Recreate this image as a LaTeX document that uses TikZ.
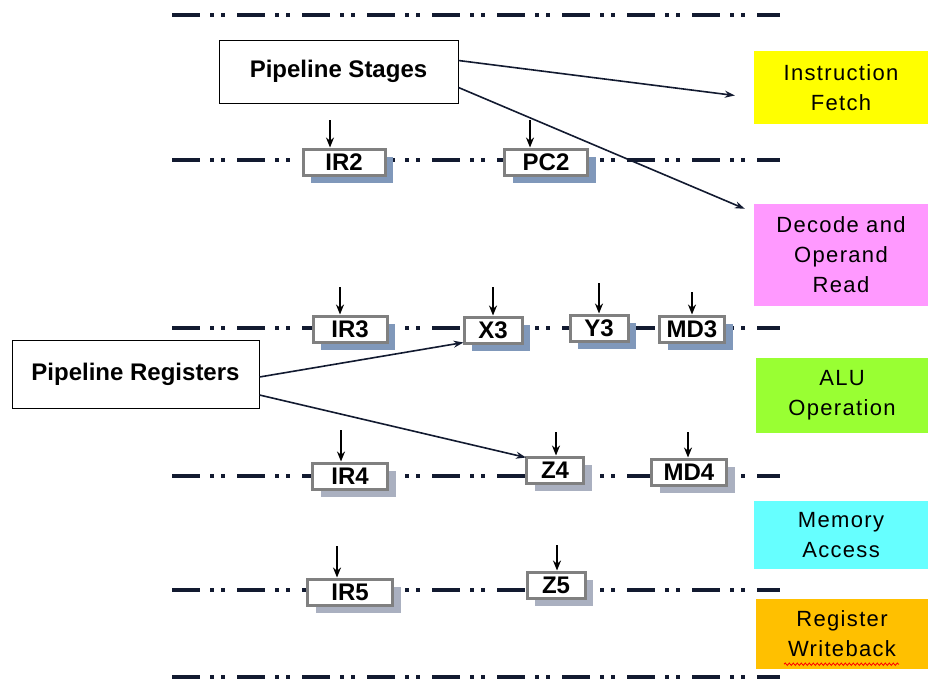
\documentclass[tikz,border=0pt]{standalone}
\usepackage{fontspec}
\setmainfont{Liberation Sans}
\newfontfamily\stagefont[LetterSpace=6]{Liberation Sans}
\usetikzlibrary{arrows.meta,shadows,decorations.pathmorphing}
\definecolor{ifetch}{RGB}{255,255,0}
\definecolor{decode}{RGB}{255,153,255}
\definecolor{aluop}{RGB}{153,255,51}
\definecolor{memacc}{RGB}{102,255,255}
\definecolor{regwb}{RGB}{255,192,0}
\definecolor{latchline}{RGB}{18,26,48}
\definecolor{regedge}{RGB}{128,128,128}
\definecolor{shadowblue}{RGB}{128,152,186}
\definecolor{shadowgray}{RGB}{170,176,192}

\begin{document}
\begin{tikzpicture}[x=1pt, y=-1pt,
        latch/.style={draw=latchline, line width=3.5pt,
                      dash pattern=on 28pt off 10pt on 4pt off 7pt on 4pt off 12pt},
        reg/.style={rectangle, draw=regedge, line width=3pt, fill=white, minimum height=26pt,
                    inner sep=0pt, font=\fontsize{24}{24}\selectfont\bfseries,
                    drop shadow={shadow xshift=8pt, shadow yshift=-8pt, fill=#1, opacity=1}},
        reg/.default=shadowblue,
        stage/.style={rectangle, minimum width=174pt, align=center,
                      font=\stagefont\fontsize{22}{30}\selectfont},
        title/.style={rectangle, draw, line width=1pt, fill=white,
                      font=\fontsize{24}{24}\selectfont\bfseries},
        inarrow/.style={line width=2.4pt, -{Stealth[length=10pt,width=8pt]}},
        pointer/.style={draw=latchline, line width=1.6pt, -{Stealth[length=10pt,width=7pt]}}
    ]
        \clip (0,0) rectangle (928,678);

        % latch lines between the stages
        \foreach \y in {15,160,328,476,590,677}
            \draw[latch] (172,\y) -- (780,\y);

        % stages
        \node[stage, fill=ifetch, minimum height=73pt]  (ifetch) at (841,87.5) {Instruction\\Fetch};
        \node[stage, fill=decode, minimum height=102pt] (decode) at (841,255)  {Decode and\\Operand\\Read};
        \node[stage, fill=aluop,  minimum height=75pt, minimum width=172pt] (aluop) at (842,395.5) {ALU\\Operation};
        \node[stage, fill=memacc, minimum height=68pt]  (memacc) at (841,535)  {Memory\\Access};
        \node[stage, fill=regwb,  minimum height=70pt, minimum width=172pt] (regwb) at (842,634) {Register\\Writeback};
        \draw[red, line width=0.8pt, decorate, decoration={snake, amplitude=1.2pt, segment length=4pt}]
            ([xshift=-58pt,yshift=5pt]regwb.south) -- ([xshift=57pt,yshift=5pt]regwb.south);

        % pipeline registers
        \node[reg, minimum width=82pt] (ir2) at (344,162) {IR2};
        \node[reg, minimum width=83pt] (pc2) at (546,162) {PC2};
        \node[reg, minimum width=74pt] (ir3) at (350,329) {IR3};
        \node[reg, minimum width=58pt] (x3)  at (493,330) {X3};
        \node[reg, minimum width=58pt] (y3)  at (599,328) {Y3};
        \node[reg, minimum width=65pt] (md3) at (692,329) {MD3};
        \node[reg=shadowgray, minimum width=75pt] (ir4) at (350,476) {IR4};
        \node[reg=shadowgray, minimum width=57pt] (z4)  at (555,470) {Z4};
        \node[reg=shadowgray, minimum width=75pt] (md4) at (689,472) {MD4};
        \node[reg=shadowgray, minimum width=85pt] (ir5) at (350,592) {IR5};
        \node[reg=shadowgray, minimum width=58pt] (z5)  at (556,585) {Z5};

        \foreach \r/\x/\y in {ir2/330/120, pc2/530/120, ir3/340/287, x3/493/287, y3/599/283,
                              md3/692/292, ir4/341/430, z4/556/432, md4/688/432, ir5/337/546, z5/557/545} {
            \coordinate (\r-in) at (\x,\y);
            \draw[inarrow] (\r-in) -- (\r-in |- \r.north);
        }

        % labels
        \node[title, minimum width=239pt, minimum height=63pt] (stages) at (338.5,71.5) {Pipeline Stages};
        \node[title, minimum width=247pt, minimum height=68pt] (pregs)  at (135.5,374)  {Pipeline Registers};

        \draw[pointer] ([yshift=11pt]stages.east)  -- ([xshift=-19pt,yshift=-8pt]ifetch.west);
        \draw[pointer] ([yshift=-16pt]stages.east) -- ([xshift=-9pt,yshift=-5pt]decode.north west);
        \draw[pointer] ([yshift=-3pt]pregs.east)   -- ([xshift=1pt,yshift=2pt]x3.south west);
        \draw[pointer] ([yshift=-21pt]pregs.east)  -- ([xshift=1pt,yshift=-2pt]z4.north west);
    \end{tikzpicture}
\end{document}
